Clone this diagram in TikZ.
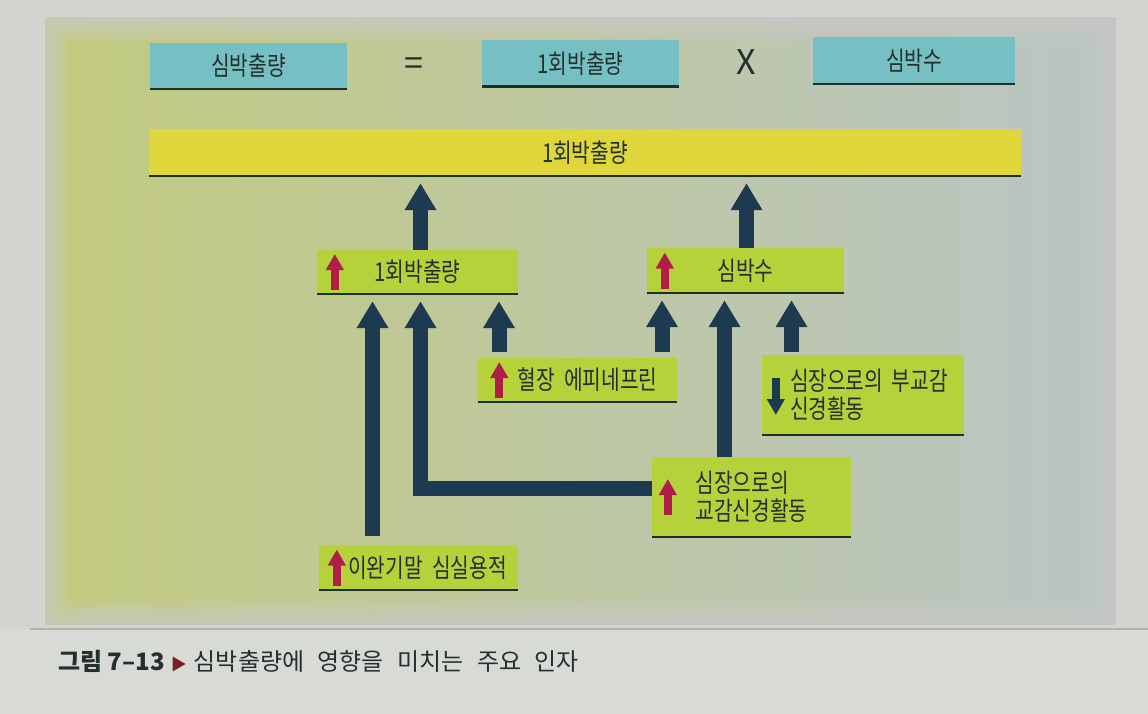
\documentclass[tikz,border=0pt]{standalone}
\usepackage{fontspec}
\setmainfont{Noto Sans CJK KR}
\newfontfamily\boxfont[FakeStretch=0.78,WordSpace=2]{Noto Sans CJK KR}
\newfontfamily\capfont[WordSpace=2.5]{Noto Sans CJK KR}
\usetikzlibrary{calc,arrows.meta}

\definecolor{pagegray}{RGB}{210,212,208}
\definecolor{capgray}{RGB}{216,218,214}
\definecolor{linegray}{RGB}{175,180,176}
\definecolor{panelL}{RGB}{194,202,126}
\definecolor{panelR}{RGB}{186,197,198}
\definecolor{tealfill}{RGB}{118,192,196}
\definecolor{barfill}{RGB}{222,214,58}
\definecolor{limefill}{RGB}{182,210,58}
\definecolor{navy}{RGB}{30,58,80}
\definecolor{markred}{RGB}{176,30,72}
\definecolor{capred}{RGB}{120,30,40}
\definecolor{inkdark}{RGB}{36,48,46}
\definecolor{edgedark}{RGB}{28,48,40}

\tikzset{
	kbox/.style={inner sep=0pt, text=inkdark, font=\boxfont\fontsize{26}{28}\selectfont},
	tealbox/.style={kbox, fill=tealfill},
	limebox/.style={kbox, fill=limefill},
	padl/.style={execute at begin node=\hspace*{#1}},
	signtext/.style={text=inkdark, font=\fontsize{34}{34}\selectfont},
	flowarrow/.style={draw=navy, line width=15pt, -{Triangle[length=27pt,width=30pt]}},
	upmark/.style={draw=markred, line width=8pt, -{Triangle[length=16pt,width=17pt]}},
	downmark/.style={draw=navy, line width=8pt, -{Triangle[length=16pt,width=17pt]}},
	edgeline/.style={draw=edgedark, line width=2.5pt},
}

\begin{document}
\begin{tikzpicture}[x=1pt,y=-1pt]
	%%%%% BACKGROUND %%%%%
	\useasboundingbox (0,0) rectangle (1148,714);
	\fill[pagegray] (0,0) rectangle (1148,714);
	\shade[left color=panelL, right color=panelR] (45,18) rectangle (1116,624);
	\foreach \w in {3,6,...,48}
		\draw[pagegray, opacity=0.07, line width=\w pt] (45,18) rectangle (1116,624);
	\fill[capgray] (0,629) rectangle (1148,714);
	\draw[linegray, line width=1.5pt] (30,629) -- (1148,629);
	
	%%%%% FORMULA %%%%%
	\node[tealbox, minimum width=197pt, minimum height=46pt] (co) at (248.5,66) {심박출량};
	\node[signtext] (eq) at (414,67) {=};
	\node[tealbox, minimum width=197pt, minimum height=46pt] (svtop) at (580.5,63.5) {1회박출량};
	\node[signtext] (times) at (746.5,62.5) {X};
	\node[tealbox, minimum width=202pt, minimum height=47pt] (hrtop) at (914,60.5) {심박수};
	
	\node[kbox, fill=barfill, minimum width=872pt, minimum height=47pt] (bar) at (585,152.5) {1회박출량};
	
	%%%%% FACTORS %%%%%
	\node[limebox, minimum width=201pt, minimum height=44pt] (sv) at (417.5,272) {1회박출량};
	\node[limebox, minimum width=197pt, minimum height=45pt] (hr) at (745.5,270.5) {심박수};
	\node[limebox, minimum width=199pt, minimum height=44pt, padl=20pt] (epi) at (577.5,380) {혈장 에피네프린};
	\node[limebox, minimum width=202pt, minimum height=80pt, text width=146pt, align=left] (para) at (863,395) {심장으로의~부교감\\신경활동};
	\node[limebox, minimum width=199pt, minimum height=80pt, align=left] (symp) at (751.5,497) {심장으로의\\교감신경활동};
	\node[limebox, minimum width=199pt, minimum height=45pt, padl=18pt] (edv) at (418.5,567.5) {이완기말 심실용적};
	
	\foreach \n in {co,svtop,hrtop,bar,sv,hr,epi,para,symp,edv}
		\draw[edgeline] (\n.south west) -- (\n.south east);
	
	%%%%% ARROWS %%%%%
	\draw[flowarrow] ($(sv.north)+(3,0)$) -- ($(sv.north |- bar.south)+(3,7)$);
	\draw[flowarrow] ($(hr.north)+(1,0)$) -- ($(hr.north |- bar.south)+(1,7)$);
	
	\draw[flowarrow] ($(edv.north)+(-46,-9)$) -- ($(edv.north |- sv.south)+(-46,7)$);
	\draw[flowarrow] ($(symp.west)+(0,-9)$) -| ($(sv.south)+(3,7)$);
	\draw[flowarrow] ($(epi.north)+(-78.5,-6)$) -- ($(epi.north |- sv.south)+(-78.5,7)$);
	
	\draw[flowarrow] ($(epi.north)+(84.5,-6)$) -- ($(epi.north |- hr.south)+(84.5,7)$);
	\draw[flowarrow] ($(symp.north)+(-27,0)$) -- ($(symp.north |- hr.south)+(-27,7)$);
	\draw[flowarrow] ($(para.north)+(-71.5,-3)$) -- ($(para.north |- hr.south)+(-71.5,7)$);
	
	% small up/down marks inside the boxes
	\foreach \n/\dx in {sv/18, hr/18, epi/21.5, symp/16, edv/18}
		\draw[upmark] ($(\n.west)+(\dx,18)$) -- ($(\n.west)+(\dx,-18)$);
	\draw[downmark] ($(para.west)+(14,-17)$) -- ($(para.west)+(14,20)$);
	
	%%%%% CAPTION %%%%%
	\node[anchor=west, text=inkdark, inner sep=0pt, font=\capfont\fontsize{24}{24}\selectfont] (cap) at (58,661)
		{{\setmainfont{Noto Sans CJK KR}\bfseries 그림 7–13}\hspace{6pt}{\fontsize{16}{16}\selectfont\textcolor{capred}{▶}}\hspace{7pt}심박출량에 영향을 미치는 주요 인자};
\end{tikzpicture}
\end{document}
